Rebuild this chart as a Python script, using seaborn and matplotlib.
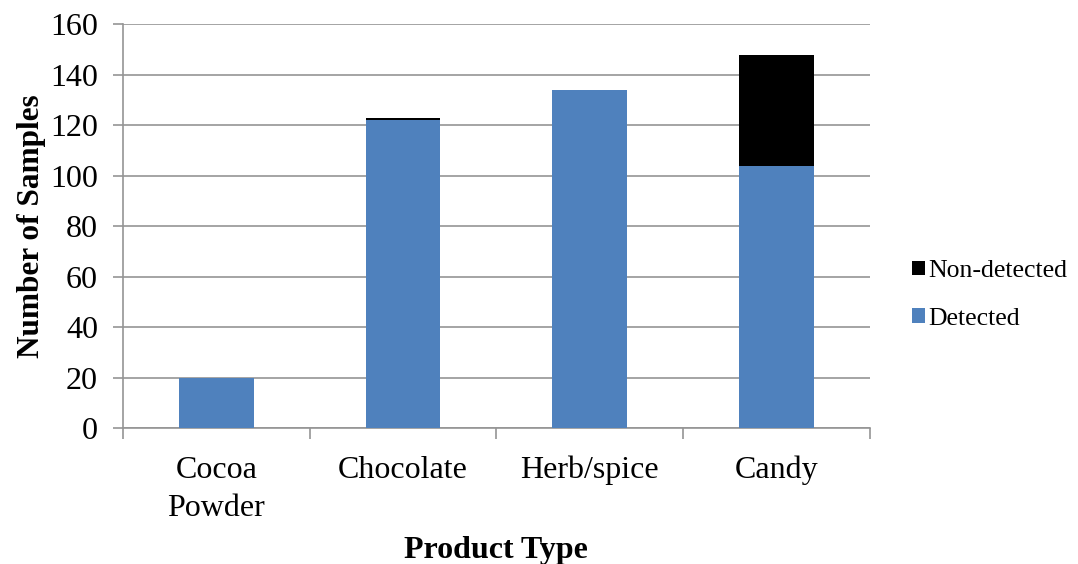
import matplotlib
matplotlib.use("Agg")
import matplotlib.pyplot as plt
import seaborn as sns
import numpy as np
from matplotlib.patches import Patch

categories = ["Cocoa\nPowder", "Chocolate", "Herb/spice", "Candy"]
detected = [20, 122, 134, 104]
non_detected = [0, 1, 0, 44]
y_ticks = [0, 20, 40, 60, 80, 100, 120, 140, 160]

blue = "#4F81BD"
grid_gray = "#959595"

sns.set_theme(style="white")
plt.rcParams["font.family"] = ["Liberation Serif", "DejaVu Serif"]
plt.rcParams["text.color"] = "black"
plt.rcParams["axes.labelcolor"] = "black"

fig = plt.figure(figsize=(10.78, 5.64), dpi=100)
ax = fig.add_axes([0.114, 0.241, 0.693, 0.716])

totals = [d + n for d, n in zip(detected, non_detected)]
sns.barplot(x=categories, y=totals, color="black", width=0.4, saturation=1,
            linewidth=0, ax=ax, zorder=2)
sns.barplot(x=categories, y=detected, color=blue, width=0.4, saturation=1,
            linewidth=0, ax=ax, zorder=3)

ax.set_ylim(0, 160)
ax.set_xlim(-0.5, 3.5)
ax.set_yticks(y_ticks)
ax.yaxis.grid(True, color=grid_gray, linewidth=1.2, zorder=0)
ax.set_axisbelow(True)

for s in ["top", "right"]:
    ax.spines[s].set_visible(False)
for s in ["left", "bottom"]:
    ax.spines[s].set_color(grid_gray)
    ax.spines[s].set_linewidth(1.2)

ax.tick_params(axis="y", which="major", left=True, length=7, width=1.2, color=grid_gray,
               labelsize=23, pad=11, labelcolor="black")
ax.tick_params(axis="x", which="major", bottom=False, labelsize=23, pad=14, labelcolor="black")
for lbl in ax.get_xticklabels():
    lbl.set_linespacing(1.4)
ax.set_xticks(np.arange(-0.5, 4.0, 1.0), minor=True)
ax.tick_params(axis="x", which="minor", bottom=True, length=8, width=1.2, color=grid_gray)

ax.set_xlabel("Product Type", fontsize=23, fontweight="bold", color="black")
ax.xaxis.set_label_coords(0.5, -0.268)
ax.set_ylabel("Number of Samples", fontsize=22.5, fontweight="bold", labelpad=3, color="black")

handles = [Patch(facecolor="black", edgecolor="none"), Patch(facecolor=blue, edgecolor="none")]
fig.legend(handles, ["Non-detected", "Detected"], loc="center left",
           bbox_to_anchor=(0.846, 0.477), frameon=False, fontsize=18.5, borderpad=0,
           borderaxespad=0, handlelength=0.5, handleheight=0.5, handletextpad=0.15,
           labelspacing=1.0, labelcolor="black")

fig.savefig("out.png", dpi=100)
